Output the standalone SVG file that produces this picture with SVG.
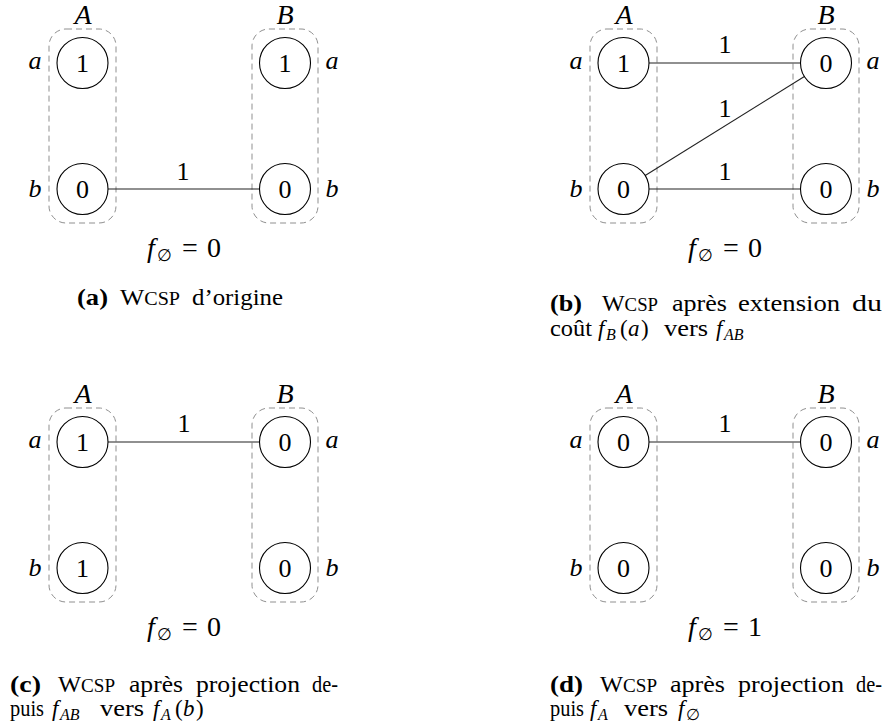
<svg xmlns="http://www.w3.org/2000/svg" width="893" height="724" viewBox="0 0 893 724" font-family="'Liberation Serif', 'Times New Roman', serif">
<style>
.bg{fill:#fff}
.box{fill:none;stroke:#8f8f8f;stroke-width:1;stroke-dasharray:6 4}
.node circle{fill:none;stroke:#000;stroke-width:1.1}
.t{font-family:'Liberation Serif','Times New Roman',serif;font-size:26px;fill:#000}
.L{font-size:28px}
.mid{text-anchor:middle}
.it{font-style:italic}
.edge line{stroke:#222;stroke-width:1.1}
.cap{font-family:'Liberation Serif','Times New Roman',serif;font-size:23px;fill:#000}
.b{font-weight:bold}
.sc{font-size:18px}
.sub{font-size:16px;font-style:italic}
</style>
<rect class="bg" x="0" y="0" width="893" height="724"/>

<!-- Panel a -->
<g id="panel-a">
  <g id="a-boxA"><rect class="box" x="49" y="29" width="67" height="194" rx="17"/><text class="t L it mid" x="83" y="24">A</text></g>
  <g id="a-boxB"><rect class="box" x="252" y="29" width="66" height="194" rx="17"/><text class="t L it mid" x="285" y="24">B</text></g>
  <text class="t it mid" x="35" y="69">a</text>
  <text class="t it mid" x="35" y="197">b</text>
  <text class="t it mid" x="332" y="69">a</text>
  <text class="t it mid" x="332" y="197">b</text>
  <g class="edge" id="a-edges">
    <line x1="108" y1="189" x2="259.5" y2="189"/>
    <text class="t mid" x="183" y="180">1</text>
  </g>
  <g class="node" id="a-Aa"><circle cx="82.5" cy="63" r="25.5"/><text class="t mid" x="82.5" y="72">1</text></g>
  <g class="node" id="a-Ab"><circle cx="82.5" cy="189" r="25.5"/><text class="t mid" x="82.5" y="198">0</text></g>
  <g class="node" id="a-Ba"><circle cx="285" cy="63" r="25.5"/><text class="t mid" x="285" y="72">1</text></g>
  <g class="node" id="a-Bb"><circle cx="285" cy="189" r="25.5"/><text class="t mid" x="285" y="198">0</text></g>
  <text class="t L" y="257"><tspan class="it" x="147">f</tspan><tspan font-size="17" x="157" dy="4">∅</tspan><tspan x="182" dy="-4">=</tspan><tspan x="207">0</tspan></text>
</g>
<g id="cap-a">
  <text class="cap b" x="77" y="305" textLength="31" lengthAdjust="spacingAndGlyphs">(a)</text>
  <text class="cap" x="120" y="305" textLength="60" lengthAdjust="spacingAndGlyphs">W<tspan class="sc">CSP</tspan></text>
  <text class="cap" x="192" y="305" textLength="91" lengthAdjust="spacingAndGlyphs">d’origine</text>
</g>

<!-- Panel b -->
<g id="panel-b" transform="translate(541,0)">
  <g id="b-boxA"><rect class="box" x="49" y="29" width="67" height="194" rx="17"/><text class="t L it mid" x="83" y="24">A</text></g>
  <g id="b-boxB"><rect class="box" x="252" y="29" width="66" height="194" rx="17"/><text class="t L it mid" x="285" y="24">B</text></g>
  <text class="t it mid" x="35" y="69">a</text>
  <text class="t it mid" x="35" y="197">b</text>
  <text class="t it mid" x="332" y="69">a</text>
  <text class="t it mid" x="332" y="197">b</text>
  <g class="edge" id="b-edges">
    <line x1="108" y1="63" x2="259.5" y2="63"/>
    <line x1="104.2" y1="175.5" x2="263.4" y2="76.5"/>
    <line x1="108" y1="189" x2="259.5" y2="189"/>
    <text class="t mid" x="184" y="53">1</text>
    <text class="t mid" x="184" y="117">1</text>
    <text class="t mid" x="184" y="180">1</text>
  </g>
  <g class="node" id="b-Aa"><circle cx="82.5" cy="63" r="25.5"/><text class="t mid" x="82.5" y="72">1</text></g>
  <g class="node" id="b-Ab"><circle cx="82.5" cy="189" r="25.5"/><text class="t mid" x="82.5" y="198">0</text></g>
  <g class="node" id="b-Ba"><circle cx="285" cy="63" r="25.5"/><text class="t mid" x="285" y="72">0</text></g>
  <g class="node" id="b-Bb"><circle cx="285" cy="189" r="25.5"/><text class="t mid" x="285" y="198">0</text></g>
  <text class="t L" y="257"><tspan class="it" x="147">f</tspan><tspan font-size="17" x="157" dy="4">∅</tspan><tspan x="182" dy="-4">=</tspan><tspan x="207">0</tspan></text>
</g>
<g id="cap-b">
  <text class="cap b" x="550" y="311" textLength="32" lengthAdjust="spacingAndGlyphs">(b)</text>
  <text class="cap" x="602" y="311" textLength="56" lengthAdjust="spacingAndGlyphs">W<tspan class="sc">CSP</tspan></text>
  <text class="cap" x="672" y="311" textLength="55" lengthAdjust="spacingAndGlyphs">après</text>
  <text class="cap" x="738" y="311" textLength="102" lengthAdjust="spacingAndGlyphs">extension</text>
  <text class="cap" x="852" y="311" textLength="30" lengthAdjust="spacingAndGlyphs">du</text>
  <text class="cap" x="550" y="336" textLength="42" lengthAdjust="spacingAndGlyphs">coût</text>
  <text class="cap" y="336"><tspan x="598" class="it">f</tspan><tspan class="sub" x="606" dy="4">B</tspan><tspan x="620" dy="-4">(</tspan><tspan class="it" x="628">a</tspan><tspan x="641">)</tspan></text>
  <text class="cap" x="664" y="336" textLength="44" lengthAdjust="spacingAndGlyphs">vers</text>
  <text class="cap" y="336"><tspan x="716" class="it">f</tspan><tspan class="sub" x="724" dy="4">AB</tspan></text>
</g>

<!-- Panel c -->
<g id="panel-c" transform="translate(0,379)">
  <g id="c-boxA"><rect class="box" x="49" y="29" width="67" height="194" rx="17"/><text class="t L it mid" x="83" y="24">A</text></g>
  <g id="c-boxB"><rect class="box" x="252" y="29" width="66" height="194" rx="17"/><text class="t L it mid" x="285" y="24">B</text></g>
  <text class="t it mid" x="35" y="69">a</text>
  <text class="t it mid" x="35" y="197">b</text>
  <text class="t it mid" x="332" y="69">a</text>
  <text class="t it mid" x="332" y="197">b</text>
  <g class="edge" id="c-edges">
    <line x1="108" y1="63" x2="259.5" y2="63"/>
    <text class="t mid" x="184" y="53">1</text>
  </g>
  <g class="node" id="c-Aa"><circle cx="82.5" cy="63" r="25.5"/><text class="t mid" x="82.5" y="72">1</text></g>
  <g class="node" id="c-Ab"><circle cx="82.5" cy="189" r="25.5"/><text class="t mid" x="82.5" y="198">1</text></g>
  <g class="node" id="c-Ba"><circle cx="285" cy="63" r="25.5"/><text class="t mid" x="285" y="72">0</text></g>
  <g class="node" id="c-Bb"><circle cx="285" cy="189" r="25.5"/><text class="t mid" x="285" y="198">0</text></g>
  <text class="t L" y="257"><tspan class="it" x="147">f</tspan><tspan font-size="17" x="157" dy="4">∅</tspan><tspan x="182" dy="-4">=</tspan><tspan x="207">0</tspan></text>
</g>
<g id="cap-c">
  <text class="cap b" x="10" y="692" textLength="31" lengthAdjust="spacingAndGlyphs">(c)</text>
  <text class="cap" x="58" y="692" textLength="57" lengthAdjust="spacingAndGlyphs">W<tspan class="sc">CSP</tspan></text>
  <text class="cap" x="129" y="692" textLength="54" lengthAdjust="spacingAndGlyphs">après</text>
  <text class="cap" x="196" y="692" textLength="104" lengthAdjust="spacingAndGlyphs">projection</text>
  <text class="cap" x="312" y="692" textLength="26" lengthAdjust="spacingAndGlyphs">de-</text>
  <text class="cap" x="10" y="716" textLength="34" lengthAdjust="spacingAndGlyphs">puis</text>
  <text class="cap" y="716"><tspan x="52" class="it">f</tspan><tspan class="sub" x="60" dy="4">AB</tspan></text>
  <text class="cap" x="100" y="716" textLength="44" lengthAdjust="spacingAndGlyphs">vers</text>
  <text class="cap" y="716"><tspan x="153" class="it">f</tspan><tspan class="sub" x="161" dy="4">A</tspan><tspan x="175" dy="-4">(</tspan><tspan class="it" x="183">b</tspan><tspan x="196">)</tspan></text>
</g>

<!-- Panel d -->
<g id="panel-d" transform="translate(541,379)">
  <g id="d-boxA"><rect class="box" x="49" y="29" width="67" height="194" rx="17"/><text class="t L it mid" x="83" y="24">A</text></g>
  <g id="d-boxB"><rect class="box" x="252" y="29" width="66" height="194" rx="17"/><text class="t L it mid" x="285" y="24">B</text></g>
  <text class="t it mid" x="35" y="69">a</text>
  <text class="t it mid" x="35" y="197">b</text>
  <text class="t it mid" x="332" y="69">a</text>
  <text class="t it mid" x="332" y="197">b</text>
  <g class="edge" id="d-edges">
    <line x1="108" y1="63" x2="259.5" y2="63"/>
    <text class="t mid" x="184" y="53">1</text>
  </g>
  <g class="node" id="d-Aa"><circle cx="82.5" cy="63" r="25.5"/><text class="t mid" x="82.5" y="72">0</text></g>
  <g class="node" id="d-Ab"><circle cx="82.5" cy="189" r="25.5"/><text class="t mid" x="82.5" y="198">0</text></g>
  <g class="node" id="d-Ba"><circle cx="285" cy="63" r="25.5"/><text class="t mid" x="285" y="72">0</text></g>
  <g class="node" id="d-Bb"><circle cx="285" cy="189" r="25.5"/><text class="t mid" x="285" y="198">0</text></g>
  <text class="t L" y="257"><tspan class="it" x="147">f</tspan><tspan font-size="17" x="157" dy="4">∅</tspan><tspan x="182" dy="-4">=</tspan><tspan x="207">1</tspan></text>
</g>
<g id="cap-d">
  <text class="cap b" x="550" y="692" textLength="33" lengthAdjust="spacingAndGlyphs">(d)</text>
  <text class="cap" x="600" y="692" textLength="57" lengthAdjust="spacingAndGlyphs">W<tspan class="sc">CSP</tspan></text>
  <text class="cap" x="670" y="692" textLength="55" lengthAdjust="spacingAndGlyphs">après</text>
  <text class="cap" x="738" y="692" textLength="106" lengthAdjust="spacingAndGlyphs">projection</text>
  <text class="cap" x="856" y="692" textLength="26" lengthAdjust="spacingAndGlyphs">de-</text>
  <text class="cap" x="550" y="716" textLength="34" lengthAdjust="spacingAndGlyphs">puis</text>
  <text class="cap" y="716"><tspan x="590" class="it">f</tspan><tspan class="sub" x="598" dy="4">A</tspan></text>
  <text class="cap" x="624" y="716" textLength="44" lengthAdjust="spacingAndGlyphs">vers</text>
  <text class="cap" y="716"><tspan x="678" class="it">f</tspan><tspan font-size="16" x="686" dy="4">∅</tspan></text>
</g>
</svg>
